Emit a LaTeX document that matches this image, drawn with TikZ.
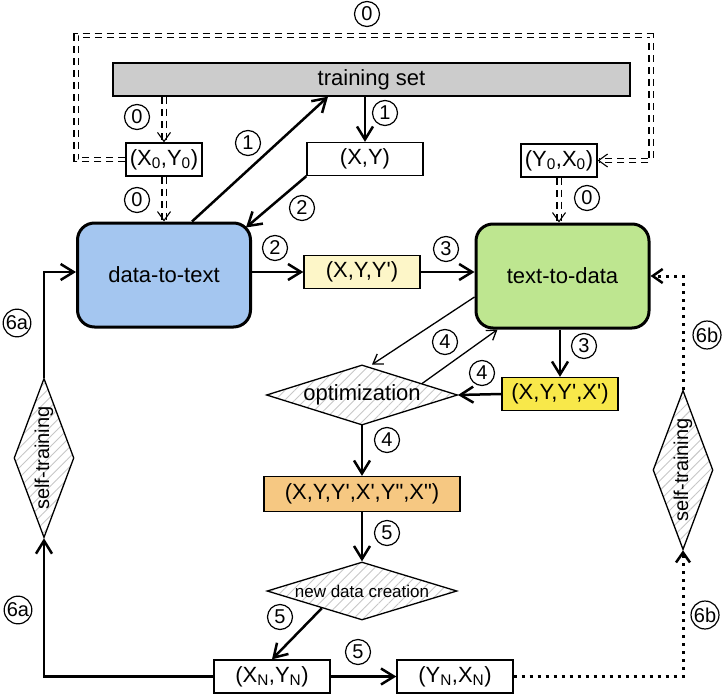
\documentclass[tikz,border=0pt]{standalone}
\usepackage{fontspec}
\setmainfont{Liberation Sans}
\usetikzlibrary{arrows.meta,shapes.geometric,patterns.meta,calc}

\definecolor{dtblue}{HTML}{A4C6F0}
\definecolor{tdgreen}{HTML}{BEE690}
\definecolor{paleyellow}{HTML}{FDF6C8}
\definecolor{brightyellow}{HTML}{F8E84A}
\definecolor{paleorange}{HTML}{F6C882}
\definecolor{setgray}{HTML}{CCCCCC}

\newcommand{\pr}{\textquotesingle}
\newcommand{\dpr}{\textquotedbl}

\tikzset{
  big/.style={font=\fontsize{22}{24}\selectfont},
  pairbox/.style={draw,line width=1.3pt,big,inner sep=0pt,minimum height=33pt,minimum width=116pt},
  model/.style={draw,line width=3pt,rounded corners=17pt,big,minimum width=173pt,minimum height=104pt},
  choice/.style={diamond,draw,line width=1.3pt,inner sep=0pt,aspect=3,
    pattern={Lines[angle=45,distance=7pt,line width=0.9pt]},pattern color=black!22},
  num/.style={circle,draw,line width=1.2pt,inner sep=0.5pt,minimum size=25pt,font=\fontsize{20}{20}\selectfont},
  flow/.style={line width=2.5pt,-{Straight Barb[length=13pt,width=16pt]}},
  thinflow/.style={line width=1.3pt,-{Straight Barb[length=9pt,width=12pt]}},
  seed/.style={double,double distance=3pt,line width=1.2pt,dash pattern=on 7pt off 5pt},
  seedarrow/.style={seed,-{Straight Barb[length=9pt,width=13pt,line width=1.1pt]}},
  dots/.style={line width=3pt,dash pattern=on 3pt off 5pt,-{Straight Barb[length=10pt,width=14pt,line width=2.5pt]}}
}

\begin{document}
\begin{tikzpicture}[x=1pt,y=-1pt]
  \useasboundingbox (0,0) rectangle (727,695);

  % boxes
  \node[pairbox,fill=setgray,minimum width=517pt] (tset) at (371.5,79.5) {training set};
  \node[pairbox,minimum width=76pt] (xy0) at (164,159.5) {(X\textsubscript{0},Y\textsubscript{0})};
  \node[pairbox] (xy) at (365,159) {(X,Y)};
  \node[pairbox,minimum width=76pt] (yx0) at (559,160.5) {(Y\textsubscript{0},X\textsubscript{0})};
  \node[model,fill=dtblue] (d2t) at (164,275) {data-to-text};
  \node[model,fill=tdgreen] (t2d) at (562.5,276) {text-to-data};
  \node[pairbox,fill=paleyellow] (xyy) at (362,272) {(X,Y,Y\pr)};
  \node[pairbox,fill=brightyellow] (xyyx) at (560,394) {(X,Y,Y\pr,X\pr)};
  \node[choice,big,minimum width=191pt,minimum height=60pt] (opt) at (362,395) {optimization};
  \node[pairbox,fill=paleorange,minimum width=196pt,minimum height=35pt] (full) at (362,494) {(X,Y,Y\pr,X\pr,Y\dpr,X\dpr)};
  \node[choice,font=\fontsize{17}{19}\selectfont,minimum width=190pt,minimum height=58pt] (newd) at (362,591) {new data creation};
  \node[pairbox] (xyn) at (272,676.5) {(X\textsubscript{N},Y\textsubscript{N})};
  \node[pairbox] (yxn) at (455,676.5) {(Y\textsubscript{N},X\textsubscript{N})};
  \node[choice,rotate=90,font=\fontsize{20}{22}\selectfont,minimum width=150pt,minimum height=60pt] (st1) at (44,458) {self-training};
  \node[choice,rotate=90,font=\fontsize{20}{22}\selectfont,minimum width=150pt,minimum height=60pt] (st2) at (683,470) {self-training};

  % seed data loop
  \coordinate (lc) at (76,35.5);
  \coordinate (rc) at (651,35.5);
  \draw[seedarrow] (xy0.west) -| (lc) -- (rc) |- (yx0.east);
  \draw[seedarrow] (xy0.north |- tset.south) -- (xy0.north);
  \draw[seedarrow] (xy0.south) -- (d2t.north);
  \draw[seedarrow] (yx0.south) -- (yx0.south |- t2d.north);

  % main flow
  \draw[flow] (xy.north |- tset.south) -- (xy.north);
  \draw[flow] ([xshift=28pt]d2t.north) -- ([xshift=-43.5pt]tset.south);
  \draw[flow] (xy.south west) -- ([xshift=-6pt,yshift=-6pt]d2t.north east);
  \draw[flow] (d2t.east |- xyy.west) -- (xyy.west);
  \draw[flow] (xyy.east) -- (xyy.east -| t2d.west);
  \draw[flow] (t2d.south -| xyyx.north) -- (xyyx.north);
  \draw[flow] (xyyx.west) -- (opt.east);
  \draw[thinflow] ([yshift=-21pt]t2d.west) -- ([xshift=10pt]opt.north);
  \draw[thinflow] ($(opt.north)!0.625!(opt.east)$) -- ([xshift=-65pt]t2d.south);
  \draw[flow] (opt.south) -- (full.north);
  \draw[flow] (full.south) -- (newd.north);
  \draw[flow] ($(newd.west)!0.58!(newd.south)$) -- (xyn.north);
  \draw[flow] (xyn.east) -- (yxn.west);

  % self-training
  \draw[flow] (xyn.west) -| (st1.west);
  \draw[flow] (st1.east) |- ([yshift=3pt]d2t.west);
  \draw[dots] (yxn.east) -| (st2.west);
  \draw[dots] (st2.east) |- (t2d.east);

  % step numbers
  \def \Marks {
    367/14/0, 137/117/0, 137/200/0, 587/198/0,
    385/113/1, 248/143/1,
    302/208/2, 275/248/2,
    446/249/3, 584/346/3,
    445/342/4, 482/373/4, 387/440/4,
    387/533/5, 280/617/5, 358/652/5,
    17/323/6a, 18/610/6a, 707/335/6b, 705/615/6b}
  \foreach \x / \y / \t in \Marks {
    \node[num] (m-\x-\y) at (\x,\y) {\t};
  }
\end{tikzpicture}
\end{document}
